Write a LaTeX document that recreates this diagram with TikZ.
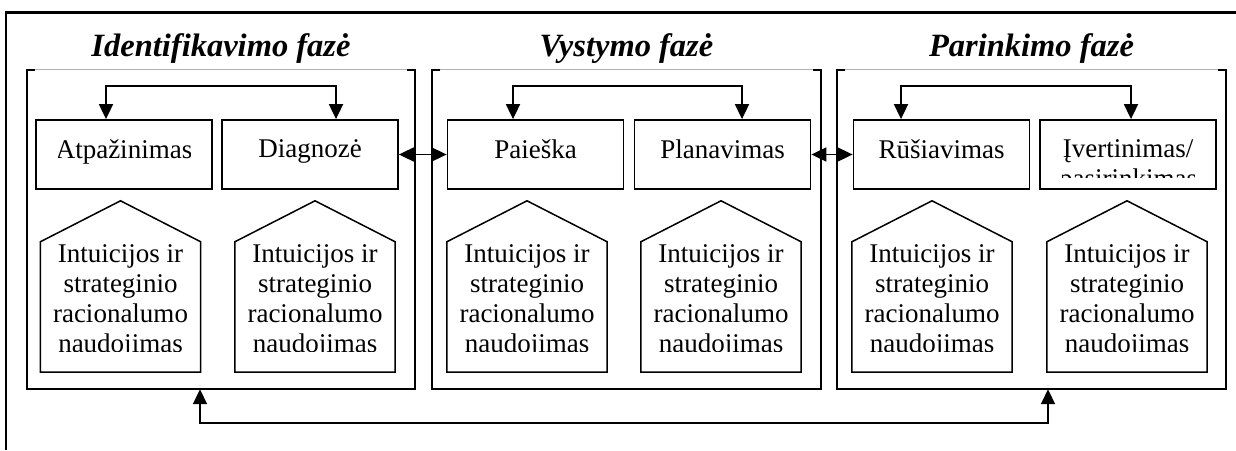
\documentclass[tikz,border=0pt]{standalone}
\usepackage{fontspec}
\setmainfont{Liberation Serif}
\usetikzlibrary{arrows.meta, positioning}
\tikzstyle{arrow} = [line width=1.8pt, <->, >={Triangle[length=15pt, width=14pt]}]
\tikzstyle{cliptext} = [anchor=north, inner sep=0pt, minimum size=0pt, align=center, draw=none]
\tikzstyle{title} = [font=\fontsize{32.5}{36}\selectfont\bfseries\itshape, anchor=base]
\tikzset{stepbox/.style={rectangle, draw=black, line width=1.8pt, minimum width=176pt, minimum height=69pt,
        path picture={
            \clip ([xshift=22pt, yshift=12pt]path picture bounding box.south west) rectangle ([xshift=-22pt]path picture bounding box.north east);
            \node [cliptext] at ([yshift=-19pt]path picture bounding box.north) {#1};
        }
    }
}
\tikzset{house/.style={minimum width=160pt, minimum height=130pt,
        path picture={
            \clip ([yshift=21pt]path picture bounding box.south west) rectangle (path picture bounding box.north east);
            \node [cliptext] at ([yshift=-2pt]path picture bounding box.north) {#1};
        },
        append after command={
            \pgfextra
            \draw[line width=1.5pt] (\tikzlastnode.north west) -- ([yshift=41pt]\tikzlastnode.north) -- (\tikzlastnode.north east) -- (\tikzlastnode.south east) -- (\tikzlastnode.south west) -- cycle;
        \endpgfextra}
    }
}
\tikzset{phase/.style={minimum width=388pt, minimum height=319pt,
        append after command={
            \pgfextra
            \draw[line width=2pt] ([xshift=8pt]\tikzlastnode.north west) -| (\tikzlastnode.south west) -| (\tikzlastnode.north east) -- ([xshift=-8pt]\tikzlastnode.north east);
            \draw[gray!60, line width=0.8pt] ([xshift=8pt]\tikzlastnode.north west) -- ([xshift=-8pt]\tikzlastnode.north east);
        \endpgfextra}
    }
}
\begin{document}
\begin{tikzpicture}[x=1pt, y=-1pt, font=\fontsize{27}{30}\selectfont]
                \useasboundingbox (0,0) rectangle (1236,450);
                \draw[line width=2.5pt] (6,450) -- (6,12.5) -- (1236,12.5);

                \node (ident) [phase] at (221,229.5) {};
                \node (vyst) [phase] at (626.5,229.5) {};
                \node (parink) [phase] at (1031.5,229.5) {};
                \node (identtitle) [title] at ([yshift=13pt]ident.north) {Identifikavimo fazė};
                \node (vysttitle) [title] at ([yshift=13pt]vyst.north) {Vystymo fazė};
                \node (parinktitle) [title] at ([yshift=13pt]parink.north) {Parinkimo fazė};

                \node (atp) [stepbox={Atpažinimas}] at (124,154.5) {};
                \node (diag) [stepbox={Diagnozė}] at (310,154.5) {};
                \node (pai) [stepbox={Paieška}] at (535.5,154.5) {};
                \node (plan) [stepbox={Planavimas}] at (722.5,154.5) {};
                \node (rus) [stepbox={Rūšiavimas}] at (941.5,154.5) {};
                \node (ivert) [stepbox={Įvertinimas/\\pasirinkimas}] at (1128,154.5) {};

                \node (intu1) [house={Intuicijos ir\\strateginio\\racionalumo\\naudojimas}] at (120.5,307) {};
                \node (intu2) [house={Intuicijos ir\\strateginio\\racionalumo\\naudojimas}] at (315,307) {};
                \node (intu3) [house={Intuicijos ir\\strateginio\\racionalumo\\naudojimas}] at (527,307) {};
                \node (intu4) [house={Intuicijos ir\\strateginio\\racionalumo\\naudojimas}] at (721,307) {};
                \node (intu5) [house={Intuicijos ir\\strateginio\\racionalumo\\naudojimas}] at (932,307) {};
                \node (intu6) [house={Intuicijos ir\\strateginio\\racionalumo\\naudojimas}] at (1127,307) {};

                \draw [arrow] ([xshift=-18pt]atp.north) -- ++(0,-33) -| ([xshift=26pt]diag.north);
                \draw [arrow] ([xshift=-22.5pt]pai.north) -- ++(0,-33) -| ([xshift=19.5pt]plan.north);
                \draw [arrow] ([xshift=-40.5pt]rus.north) -- ++(0,-33) -| ([xshift=3pt]ivert.north);
                \draw [arrow] (diag) -- (pai);
                \draw [arrow] (plan) -- (rus);
                \draw [arrow] ([xshift=-21pt]ident.south) -- ++(0,34) -| ([xshift=16.5pt]parink.south);
            \end{tikzpicture}
\end{document}
